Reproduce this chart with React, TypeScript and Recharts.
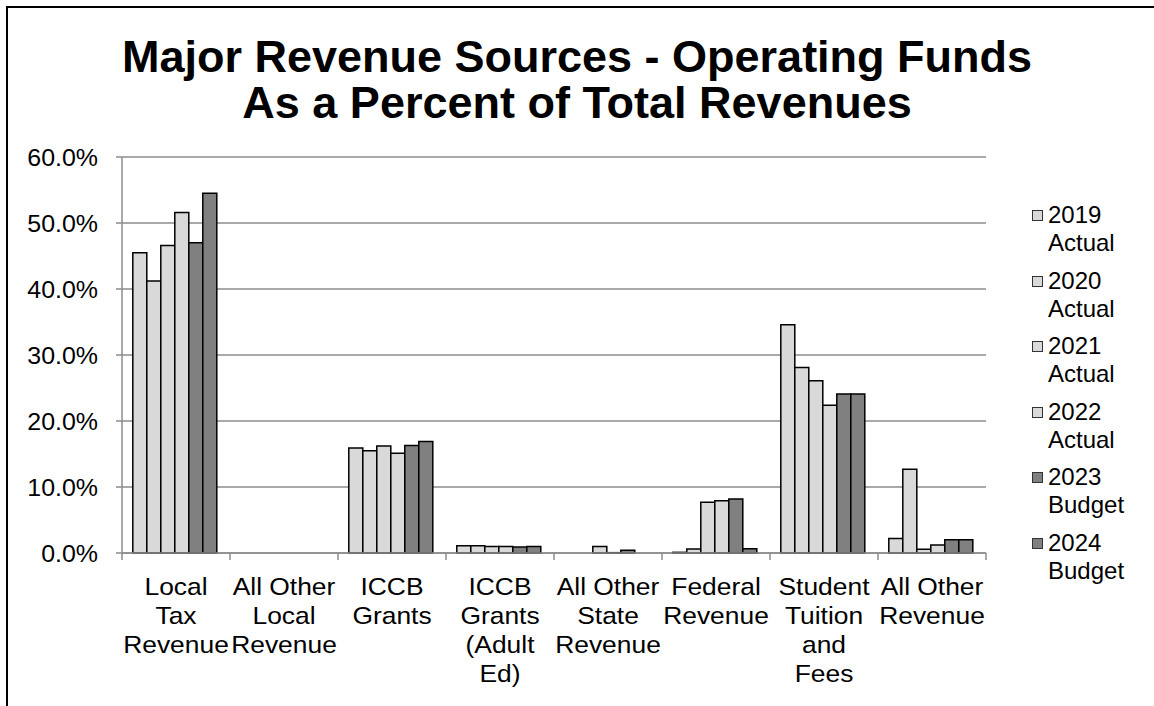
import React from 'react';
import { BarChart, Bar, XAxis, YAxis, CartesianGrid } from 'recharts';

const categories = [
  'Local Tax Revenue',
  'All Other Local Revenue',
  'ICCB Grants',
  'ICCB Grants (Adult Ed)',
  'All Other State Revenue',
  'Federal Revenue',
  'Student Tuition and Fees',
  'All Other Revenue',
];

const tickLines = [
  ['Local', 'Tax', 'Revenue'],
  ['All Other', 'Local', 'Revenue'],
  ['ICCB', 'Grants'],
  ['ICCB', 'Grants', '(Adult', 'Ed)'],
  ['All Other', 'State', 'Revenue'],
  ['Federal', 'Revenue'],
  ['Student', 'Tuition', 'and', 'Fees'],
  ['All Other', 'Revenue'],
];

const seriesKeys = ['a2019', 'a2020', 'a2021', 'a2022', 'b2023', 'b2024'];
const seriesYears = ['2019', '2020', '2021', '2022', '2023', '2024'];
const seriesKinds = ['Actual', 'Actual', 'Actual', 'Actual', 'Budget', 'Budget'];
const seriesColors = ['#D9D9D9', '#D9D9D9', '#D9D9D9', '#D9D9D9', '#808080', '#808080'];

const y2019 = [45.5, 0, 15.9, 1.1, 0, 0.1, 34.6, 2.2];
const y2020 = [41.2, 0, 15.5, 1.1, 0, 0.6, 28.1, 12.7];
const y2021 = [46.6, 0, 16.2, 1.0, 1.0, 7.7, 26.1, 0.55];
const y2022 = [51.6, 0, 15.1, 1.0, 0.05, 7.9, 22.4, 1.2];
const y2023 = [47.0, 0, 16.3, 0.9, 0.4, 8.2, 24.1, 2.0];
const y2024 = [54.5, 0, 16.9, 1.0, 0, 0.65, 24.1, 2.0];

const yTicks = [0, 10, 20, 30, 40, 50, 60];

const titleLines = ['Major Revenue Sources - Operating Funds', 'As a Percent of Total Revenues'];

const seriesValues = [y2019, y2020, y2021, y2022, y2023, y2024];

const data = categories.map((name, i) => {
  const row: Record<string, any> = { name, idx: i };
  seriesKeys.forEach((k, s) => {
    row[k] = seriesValues[s][i];
  });
  return row;
});

const W = 1154;
const H = 706;
const PLOT_LEFT = 122;
const PLOT_RIGHT = 986;
const PLOT_TOP = 157;
const PLOT_BOTTOM = 553;
const FONT = 'Liberation Sans, Arial, sans-serif';
const GRID = '#8C8C8C';
const SX = 1.1;

const XTick = (props: any) => {
  const { x, y, payload, index } = props;
  const band = (PLOT_RIGHT - PLOT_LEFT) / categories.length;
  const lines = tickLines[index] || [String(payload.value)];
  return (
    <g>
      <line x1={x - band / 2} x2={x - band / 2} y1={y} y2={y + 7} stroke={GRID} strokeWidth={1.5} />
      {index === categories.length - 1 && (
        <line x1={x + band / 2} x2={x + band / 2} y1={y} y2={y + 7} stroke={GRID} strokeWidth={1.5} />
      )}
      <g transform={`translate(${x},${y + 42}) scale(${SX},1)`}>
        <text x={0} y={0} textAnchor="middle" fontFamily={FONT} fontSize={24} fill="#000">
          {lines.map((l, i) => (
            <tspan key={i} x={0} dy={i === 0 ? 0 : 29}>
              {l}
            </tspan>
          ))}
        </text>
      </g>
    </g>
  );
};

const YTick = (props: any) => {
  const { x, y, payload } = props;
  return (
    <g transform={`translate(${x},${y}) scale(1.04,1)`}>
      <text x={0} y={0} dy="0.355em" textAnchor="end" fontFamily={FONT} fontSize={24} fill="#000">
        {`${Number(payload.value).toFixed(1)}%`}
      </text>
    </g>
  );
};

export default function App() {
  return (
    <div style={{ position: 'absolute', left: 0, top: 0, width: W, height: H, background: '#fff', overflow: 'hidden' }}>
      <div
        style={{
          position: 'absolute',
          left: 6,
          top: 6,
          width: W - 6,
          height: H - 6,
          borderLeft: '2px solid #000',
          borderTop: '2px solid #000',
          boxSizing: 'border-box',
        }}
      />
      <div
        style={{
          position: 'absolute',
          left: 0,
          top: 34,
          width: W,
          textAlign: 'center',
          fontFamily: FONT,
          fontWeight: 'bold',
          fontSize: 45,
          lineHeight: '46px',
          color: '#000',
        }}
      >
        {titleLines.map((t, i) => (
          <div key={i}>{t}</div>
        ))}
      </div>
      <div style={{ position: 'absolute', left: 0, top: 0 }}>
        <BarChart
          width={W}
          height={H}
          data={data}
          margin={{ top: PLOT_TOP, right: W - PLOT_RIGHT, bottom: 0, left: 0 }}
          barCategoryGap="10%"
          barGap={0}
        >
          <CartesianGrid vertical={false} stroke={GRID} strokeWidth={1.5} />
          <XAxis
            dataKey="name"
            height={H - PLOT_BOTTOM}
            tickSize={0}
            tickMargin={0}
            interval={0}
            axisLine={{ stroke: GRID, strokeWidth: 1.5 }}
            tickLine={false}
            tick={<XTick />}
          />
          <YAxis
            width={PLOT_LEFT}
            domain={[0, 60]}
            ticks={yTicks}
            interval={0}
            tickSize={6}
            tickMargin={18}
            axisLine={{ stroke: GRID, strokeWidth: 1.5 }}
            tickLine={{ stroke: GRID, strokeWidth: 1.5 }}
            tick={<YTick />}
          />
          {seriesKeys.map((k, s) => (
            <Bar
              key={k}
              dataKey={k}
              fill={seriesColors[s]}
              stroke="#000"
              strokeWidth={1.5}
              isAnimationActive={false}
            />
          ))}
        </BarChart>
      </div>
      <div style={{ position: 'absolute', left: 1032, top: 0, fontFamily: FONT, fontSize: 24, color: '#000' }}>
        {seriesKeys.map((k, s) => (
          <div key={k} style={{ position: 'absolute', left: 0, top: 201 + s * 65.6, width: 120, lineHeight: '28px' }}>
            <div
              style={{
                position: 'absolute',
                left: 0,
                top: 9,
                width: 9,
                height: 9,
                background: seriesColors[s],
                border: '1.5px solid #333',
              }}
            />
            <div style={{ position: 'absolute', left: 16, top: 0, whiteSpace: 'nowrap' }}>
              {seriesYears[s]}
              <br />
              {seriesKinds[s]}
            </div>
          </div>
        ))}
      </div>
    </div>
  );
}
